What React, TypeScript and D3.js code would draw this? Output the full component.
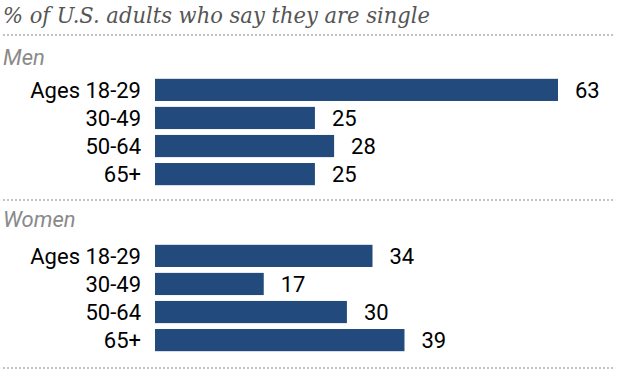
import React from 'react';
import * as d3 from 'd3';

const title = '% of U.S. adults who say they are single';
const groups = ['Men', 'Women'];
const ageLabels = ['Ages 18-29', '30-49', '50-64', '65+'];
const menValues = [63, 25, 28, 25];
const womenValues = [34, 17, 30, 39];

const width = 620;
const height = 371;
const barColor = '#234a7d';
const sansFont = 'Roboto, "Liberation Sans", sans-serif';

const App = () => {
  // x scale shared by both panels
  const x = d3.scaleLinear().domain([0, 63]).range([155, 558]);

  const panels = [
    { name: groups[0], values: menValues, labelY: 65, top: 76, lineY: 35 },
    { name: groups[1], values: womenValues, labelY: 227, top: 242, lineY: 200 },
  ];

  return (
    <svg width={width} height={height} style={{ position: 'absolute', left: 0, top: 0 }}>
      <rect width={width} height={height} fill="#fff" />
      <text x={3} y={23} fontFamily='"DejaVu Serif", Georgia, serif' fontStyle="italic"
        fontSize={22} fill="#555" textLength={427} lengthAdjust="spacingAndGlyphs">{title}</text>
      {panels.map(p => {
        const y = d3.scaleBand()
          .domain(ageLabels)
          .range([p.top, p.top + 28 * ageLabels.length])
          .paddingInner(0.21)
          .paddingOuter(0.1);
        return (
          <g key={p.name}>
            <line x1={3} x2={615} y1={p.lineY} y2={p.lineY} stroke="#b0b0b0"
              strokeWidth={1.5} strokeDasharray="2,2" />
            <text x={3} y={p.labelY} fontFamily={sansFont} fontStyle="italic"
              fontSize={22} fill="#8a8a8a">{p.name}</text>
            {ageLabels.map((a, i) => {
              const by = y(a) ?? 0;
              const cy = by + y.bandwidth() / 2;
              return (
                <g key={a}>
                  <text x={141} y={cy} dy="0.36em" textAnchor="end" fontFamily={sansFont}
                    fontSize={22} fill="#000">{a}</text>
                  <rect x={x(0)} y={by} width={x(p.values[i]) - x(0)} height={y.bandwidth()}
                    fill={barColor} />
                  <text x={x(p.values[i]) + 17} y={cy} dy="0.36em" fontFamily={sansFont}
                    fontSize={22} fill="#000">{p.values[i]}</text>
                </g>
              );
            })}
          </g>
        );
      })}
      <line x1={3} x2={615} y1={368} y2={368} stroke="#b0b0b0" strokeWidth={1.5}
        strokeDasharray="2,2" />
    </svg>
  );
};

export default App;
